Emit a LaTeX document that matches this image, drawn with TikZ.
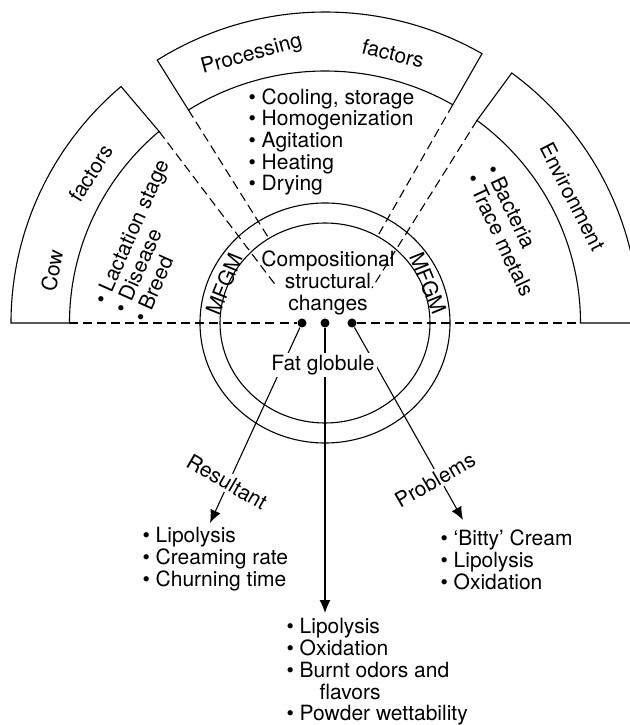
\documentclass[tikz,border=0pt]{standalone}
\usepackage{fontspec}
\setmainfont{TeX Gyre Heros}
\usetikzlibrary{arrows.meta,calc}
\newcommand\Rinx{255.5}
\newcommand\Riny{252}
\newcommand\Routx{314}
\newcommand\Routy{311}
\newcommand\mysector[2]{%
  \draw[boxline] ({\Rinx*cos(#1)},{\Riny*sin(#1)})
    arc[start angle=#1,end angle=#2,x radius=\Rinx,y radius=\Riny]
    -- ({\Routx*cos(#2)},{\Routy*sin(#2)})
    arc[start angle=#2,end angle=#1,x radius=\Routx,y radius=\Routy] -- cycle;}
\begin{document}
\begin{tikzpicture}[x=1pt,y=1pt,
  line width=1.1pt,
  every node/.style={font=\fontsize{21}{21.7}\selectfont},
  boxline/.style={draw, line width=1.1pt, line join=miter},
  dashln/.style={dash pattern=on 9pt off 5pt, line width=1.1pt},
  lst/.style={align=left, inner sep=0pt},
  dotnode/.style={circle, fill, inner sep=0pt, minimum size=9pt},
  arr/.style={-{Latex[length=13pt,width=11pt]}},
  wlbl/.style={fill=white, inner sep=2pt},
]
\useasboundingbox (-325,-402) rectangle (304,323);

% sector boxes
\mysector{130.5}{180}
\mysector{60}{122.3}
\mysector{0}{53.5}

% globule rings
\draw (0,0) ellipse [x radius=125, y radius=120];
\draw (0,0) ellipse [x radius=105, y radius=100];

% coordinates
\coordinate (cowin) at ({\Rinx*cos(130.5)},{\Riny*sin(130.5)});
\coordinate (procL) at ({\Rinx*cos(122.3)},{\Riny*sin(122.3)});
\coordinate (procR) at ({\Rinx*cos(60)},{\Riny*sin(60)});
\coordinate (envin) at ({\Rinx*cos(53.5)},{\Riny*sin(53.5)});
\coordinate (cowbot) at (-\Rinx,0);
\coordinate (envbot) at (\Rinx,0);
\coordinate (l1e) at (-48,36);
\coordinate (l4e) at (47,35);
\coordinate (l2e) at ({105*cos(122.3)},{100*sin(122.3)});
\coordinate (l3e) at ({105*cos(60)},{100*sin(60)});
\coordinate (tl) at (-115,-200);
\coordinate (tm) at (0,-290);
\coordinate (tr) at (138,-197);

% dots
\node[dotnode] (dl) at (-23,0) {};
\node[dotnode] (dm) at (0,0) {};
\node[dotnode] (dr) at (27,0) {};

% dashed lines
\draw[dashln] (cowin) -- (l1e);
\draw[dashln] (procL) -- (l2e);
\draw[dashln] (procR) -- (l3e);
\draw[dashln] (envin) -- (l4e);
\draw[dashln] (cowbot) -- (dl);
\draw[dashln] (dr) -- (envbot);

% arrows
\draw[arr] (dl) -- (tl);
\draw[arr] (dm) -- (tm);
\draw[arr] (dr) -- (tr);

% labels over arrows
\node[wlbl] (fat) at (-2,-42) {Fat globule};
\node[wlbl, rotate=-30] (res) at (-98,-159) {Resultant};
\node[wlbl, rotate=30] (prob) at (110,-157) {Problems};

% centre text
\node[align=center, inner sep=0pt] (comp) at (3,40) {Compositional\\structural\\changes};
\node[rotate=68] (mfl) at (-101,39) {MFGM};
\node[rotate=-68] (mfr) at (103,40) {MFGM};

% box titles
\node[rotate=79.1] (cow) at (169.1:278) {Cow};
\node[rotate=57.4] (cowf) at (147.4:278) {factors};
\node[rotate=15.3] (proc) at (105.3:278) {Processing};
\node[rotate=-14.2] (procf) at (75.8:278) {factors};
\node[rotate=-63] (env) at (27:278) {Environment};

% lists
\node[lst, anchor=west] (plist) at (-77,181)
  {\textbullet\ Cooling, storage\\ \textbullet\ Homogenization\\ \textbullet\ Agitation\\ \textbullet\ Heating\\ \textbullet\ Drying};
\node[lst, anchor=west, rotate=66] (cowlist) at (-206,11.3)
  {\textbullet\ Lactation stage\\ \textbullet\ Disease\\ \textbullet\ Breed};
\node[lst, anchor=west, rotate=-65] (envlist) at (157,153)
  {\textbullet\ Bacteria\\ \textbullet\ Trace metals};
\node[lst, anchor=west] (reslist) at (-183,-236)
  {\textbullet\ Lipolysis\\ \textbullet\ Creaming rate\\ \textbullet\ Churning time};
\node[lst, anchor=west] (problist) at (115,-237)
  {\textbullet\ `Bitty' Cream\\ \textbullet\ Lipolysis\\ \textbullet\ Oxidation};
\node[lst, anchor=west] (clist) at (-39,-349)
  {\textbullet\ Lipolysis\\ \textbullet\ Oxidation\\ \textbullet\ Burnt odors and\\ \hspace*{33pt}flavors\\ \textbullet\ Powder wettability};
\end{tikzpicture}
\end{document}
